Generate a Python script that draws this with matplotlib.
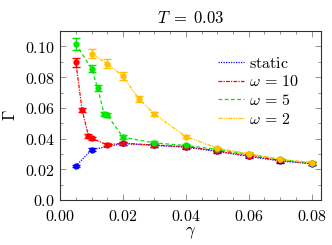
import matplotlib
matplotlib.use("Agg")
import matplotlib.pyplot as plt
from matplotlib.lines import Line2D
from matplotlib.ticker import FixedLocator, MultipleLocator

plt.rcParams['mathtext.fontset'] = 'cm'
plt.rcParams['font.family'] = ['DejaVu Serif']
plt.rcParams['font.size'] = 8

# data
x_static = [0.005, 0.010, 0.020, 0.030, 0.040, 0.050, 0.060, 0.070, 0.080]
y_static = [0.0221, 0.0327, 0.0368, 0.0355, 0.0344, 0.0316, 0.0284, 0.0254, 0.0237]
e_static = [0.0008, 0.0010, 0.0010, 0.0010, 0.0010, 0.0010, 0.0010, 0.0010, 0.0010]

x_w10 = [0.005, 0.007, 0.009, 0.010, 0.015, 0.020, 0.030, 0.040, 0.050, 0.060, 0.070, 0.080]
y_w10 = [0.0897, 0.0587, 0.0419, 0.0402, 0.0359, 0.0370, 0.0358, 0.0348, 0.0320, 0.0288, 0.0258, 0.0238]
e_w10 = [0.0030, 0.0015, 0.0012, 0.0010, 0.0010, 0.0010, 0.0010, 0.0010, 0.0010, 0.0010, 0.0010, 0.0010]

x_w5 = [0.005, 0.010, 0.012, 0.014, 0.015, 0.020, 0.030, 0.040, 0.050, 0.060, 0.070, 0.080]
y_w5 = [0.1017, 0.0856, 0.0727, 0.0559, 0.0553, 0.0409, 0.0372, 0.0355, 0.0330, 0.0298, 0.0265, 0.0240]
e_w5 = [0.0040, 0.0025, 0.0020, 0.0015, 0.0015, 0.0012, 0.0010, 0.0010, 0.0010, 0.0010, 0.0010, 0.0010]

x_w2 = [0.010, 0.015, 0.020, 0.025, 0.030, 0.040, 0.050, 0.060, 0.070, 0.080]
y_w2 = [0.0953, 0.0888, 0.0806, 0.0660, 0.0559, 0.0413, 0.0338, 0.0301, 0.0264, 0.0243]
e_w2 = [0.0030, 0.0030, 0.0025, 0.0020, 0.0015, 0.0012, 0.0010, 0.0010, 0.0010, 0.0010]

x_ticks = [0.00, 0.02, 0.04, 0.06, 0.08]
x_labels = ["0.00", "0.02", "0.04", "0.06", "0.08"]
y_ticks = [0.0, 0.02, 0.04, 0.06, 0.08, 0.10]
y_labels = ["0.0", "0.02", "0.04", "0.06", "0.08", "0.10"]

fig = plt.figure(figsize=(3.32, 2.45), dpi=100)
ax = fig.add_axes([0.181, 0.1837, 0.786, 0.6893])

series = [
    (x_static, y_static, e_static, (0, 0, 1), (0, (1, 1)), r"$\mathrm{static}$"),
    (x_w10, y_w10, e_w10, (1, 0, 0), (0, (3, 1, 1, 1)), r"$\omega\,=\,10$"),
    (x_w5, y_w5, e_w5, (0, 0.9, 0), (0, (3, 2)), r"$\omega\,=\,5$"),
    (x_w2, y_w2, e_w2, (1, 0.75, 0), (0, (3, 1, 1, 1, 1, 1)), r"$\omega\,=\,2$"),
]
handles = []
for xs, ys, es, c, ls, lab in series:
    ax.errorbar(xs, ys, yerr=es, color=c, linestyle=ls, linewidth=0.9,
                marker='o', markersize=3.5, capsize=3, elinewidth=1.0,
                capthick=1.0)
    handles.append(Line2D([], [], color=c, linestyle=ls, linewidth=0.9, label=lab))

ax.set_xlim(0, 0.083)
ax.set_ylim(0, 0.11)
ax.xaxis.set_major_locator(FixedLocator(x_ticks))
ax.set_xticklabels([f"${s}$" for s in x_labels])
ax.yaxis.set_major_locator(FixedLocator(y_ticks))
ax.set_yticklabels([f"${s}$" for s in y_labels])
ax.xaxis.set_minor_locator(MultipleLocator(0.005))
ax.yaxis.set_minor_locator(MultipleLocator(0.01))
ax.tick_params(which='both', direction='in', top=True, right=True, color='#666666')
ax.tick_params(which='major', length=4, width=0.5, labelsize=11.5)
ax.tick_params(axis='x', which='major', pad=6)
ax.tick_params(axis='y', which='major', pad=4)
ax.tick_params(which='minor', length=2, width=0.5)
for s in ax.spines.values():
    s.set_linewidth(0.8)
    s.set_color('#333333')

ax.set_xlabel(r"$\gamma$", fontsize=12, labelpad=-1)
ax.set_ylabel(r"$\Gamma$", fontsize=12, labelpad=4)
ax.set_title(r"$T\;=\;0.03$", fontsize=12, pad=6)

leg = ax.legend(handles=handles, loc='upper left', bbox_to_anchor=(0.605, 0.86),
                frameon=False, fontsize=11.5, handlelength=1.6, handletextpad=0.35,
                labelspacing=0.1, borderaxespad=0, borderpad=0)

fig.savefig("out.png", dpi=100)
